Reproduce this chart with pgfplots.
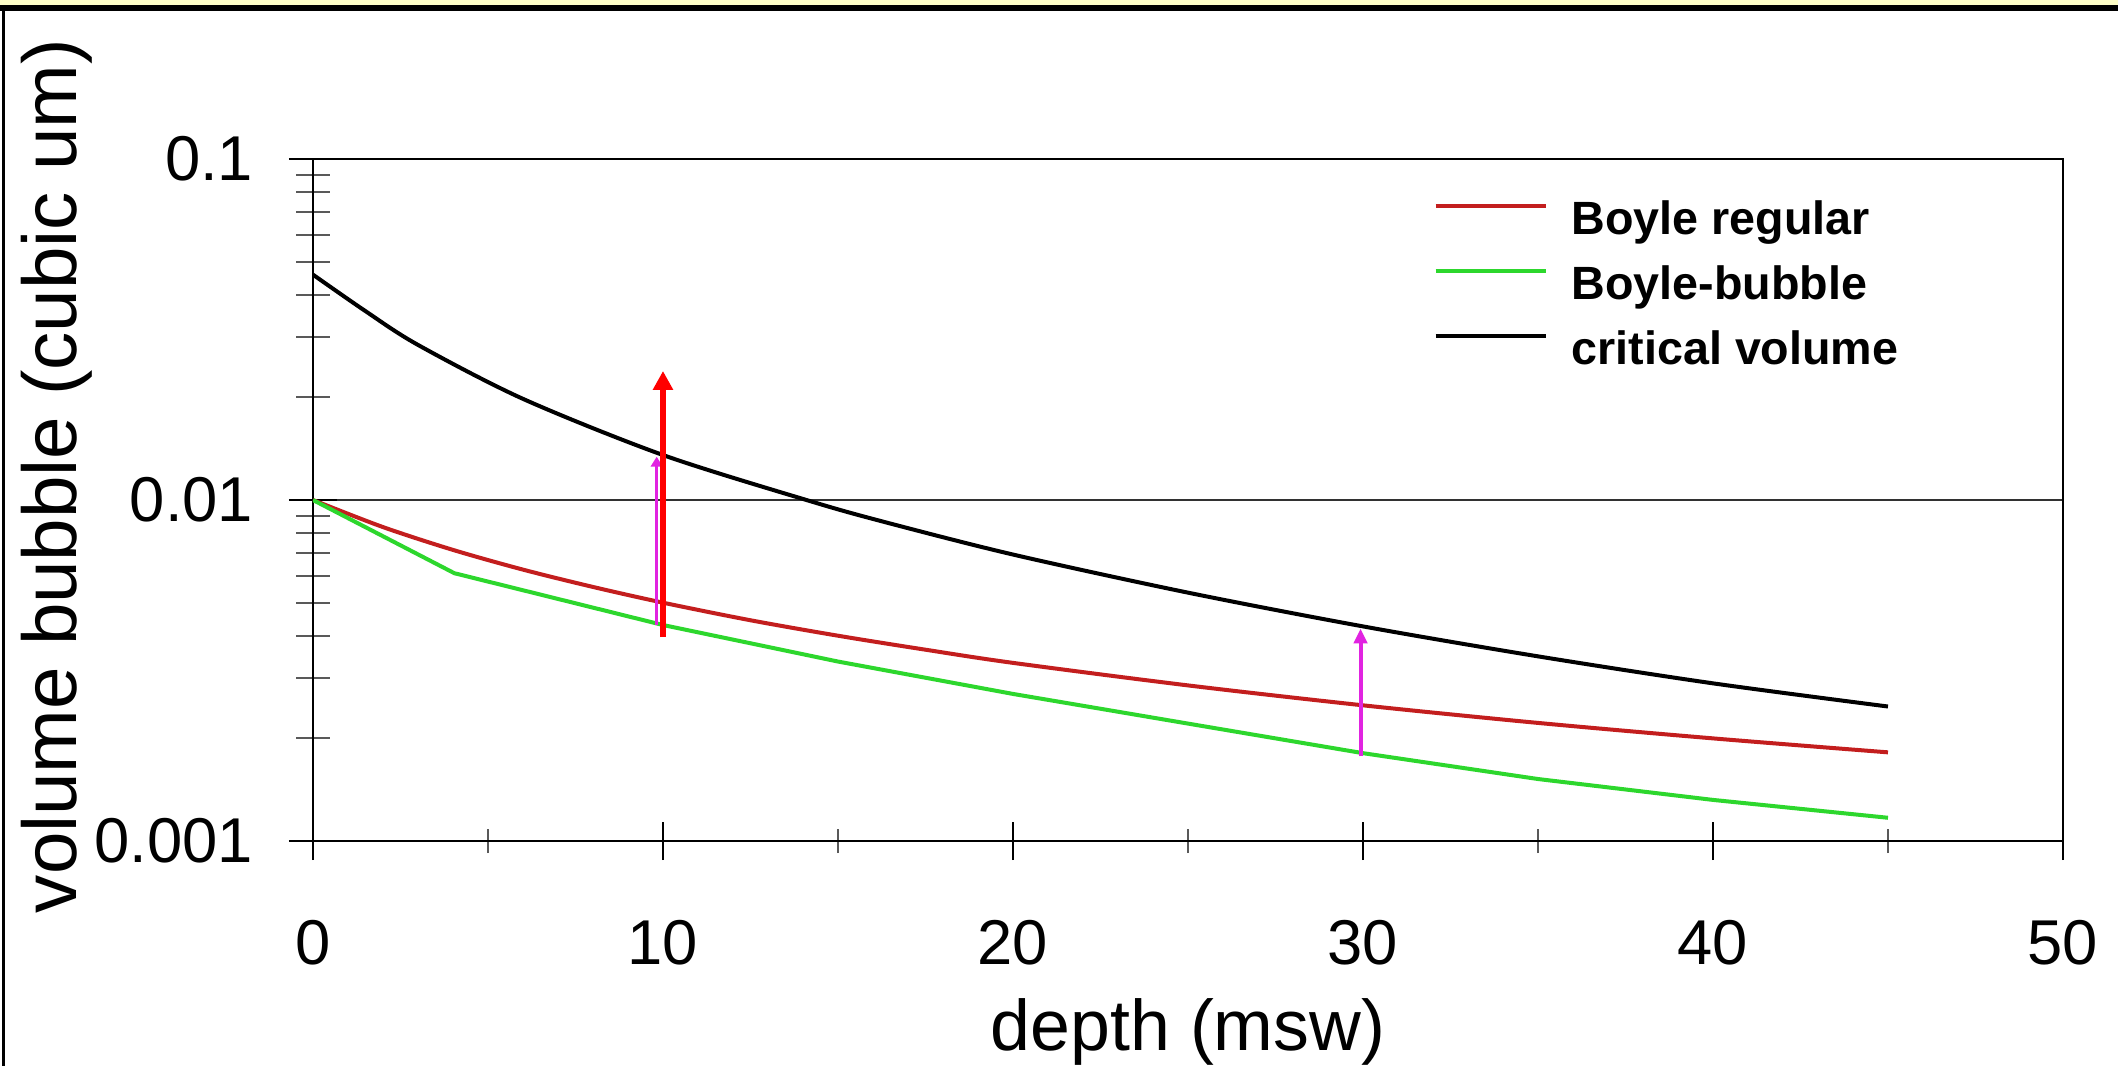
\documentclass[border=0pt]{standalone}
\usepackage{pgfplots}
\pgfplotsset{compat=1.18}
\usepackage{fontspec}
\setmainfont{Liberation Sans}
\usetikzlibrary{arrows.meta}
\definecolor{cred}{RGB}{195,30,30}
\definecolor{cgreen}{RGB}{45,215,45}
\definecolor{cmag}{RGB}{225,35,225}
\definecolor{cyel}{RGB}{255,255,200}
\definecolor{cgrid}{RGB}{50,50,50}

\begin{document}
\begin{tikzpicture}
\useasboundingbox (0,0) rectangle (635.4pt,319.8pt);
\fill[white] (0,0) rectangle (635.4pt,319.8pt);
\fill[cyel] (0,318.3pt) rectangle (635.4pt,319.8pt);
\fill[black] (0,316.5pt) rectangle (635.4pt,318.3pt);
\fill[black] (0.6pt,0) rectangle (1.5pt,316.5pt);
\begin{axis}[
  at={(93.9pt,67.5pt)}, anchor=south west,
  scale only axis, width=525pt, height=204.6pt,
  xmin=0, xmax=50, ymin=0.001, ymax=0.1,
  ymode=log,
  xtick pos=bottom, ytick pos=left,
  xtick={0,10,20,30,40,50}, xticklabels={0,10,20,30,40,50},
  minor x tick num=1,
  ytick={0.001,0.01,0.1}, yticklabels={0.001,0.01,0.1},
  minor ytick={0.002,0.003,0.004,0.005,0.006,0.007,0.008,0.009,0.02,0.03,0.04,0.05,0.06,0.07,0.08,0.09},
  tick align=center,
  xtick style={/pgfplots/major tick length=11.4pt, /pgfplots/minor tick length=7.2pt},
  ytick style={/pgfplots/major tick length=14.4pt, /pgfplots/minor tick length=10pt},
  major tick style={black, line width=0.6pt},
  minor tick style={black!65, line width=0.6pt},
  axis line style={line width=0.7pt},
  ymajorgrids=true,
  grid style={cgrid, line width=0.7pt},
  tick label style={font=\fontsize{19pt}{22pt}\selectfont, inner sep=0pt},
  yticklabel style={anchor=east, xshift=-15.6pt},
  xticklabel style={anchor=north, yshift=-21.3pt},
  xlabel={depth (msw)},
  ylabel={volume bubble (cubic um)},
  xlabel style={font=\fontsize{21.5pt}{24pt}\selectfont, at={(axis description cs:0.5,-0.3065)}, anchor=base, inner sep=0pt},
  ylabel style={font=\fontsize{22.9pt}{26pt}\selectfont, at={(axis description cs:-0.1349,0.535)}, anchor=base, inner sep=0pt},
  legend style={draw=none, fill=none, at={(0.64,0.9413)}, anchor=north west, inner sep=0pt,
    column sep=7.2pt, row sep=6pt,
    nodes={inner sep=0pt, font=\bfseries\fontsize{14pt}{16pt}\selectfont, text height=10.5pt, text depth=3pt}},
  legend cell align=left,
  legend image code/.code={\draw[#1, line width=1.2pt] (0pt,5pt) -- (33pt,5pt);},
]
\addplot[cred, line width=1.2pt, smooth] coordinates {
(0,0.01) (2,0.00833) (4,0.00714) (6,0.00625) (8,0.00556) (10,0.005) (12.5,0.00444)
(15,0.004) (17.5,0.00364) (20,0.00333) (25,0.00286) (30,0.0025) (35,0.00222) (40,0.002) (45,0.00182)};
\addlegendentry{Boyle regular}
\addplot[cgreen, line width=1.2pt] coordinates {
(0,0.01) (4.04,0.0061) (10,0.0043) (15,0.00336) (20,0.0027) (25,0.00221) (30,0.00181)
(35,0.00152) (40,0.00132) (45,0.00117)};
\addlegendentry{Boyle-bubble}
\addplot[black, line width=1.2pt, smooth] coordinates {
(0,0.0458) (1.5,0.0358) (3,0.0285) (6,0.0198) (10,0.01355) (14.1,0.01) (16.2,0.00869)
(20,0.00692) (25,0.00535) (30,0.00426) (35,0.00348) (40,0.0029) (45,0.00248)};
\addlegendentry{critical volume}
\addplot[cmag, line width=1pt, -{Triangle[width=3.5pt,length=3pt]}, forget plot] coordinates {(9.82,0.0043) (9.82,0.0134)};
\addplot[cmag, line width=1.2pt, -{Triangle[width=4pt,length=4.5pt]}, forget plot] coordinates {(29.93,0.00177) (29.93,0.0042)};
\addplot[red, line width=1.8pt, -{Triangle[width=5.8pt,length=5.7pt]}, forget plot] coordinates {(10,0.00396) (10,0.0239)};
\end{axis}
\end{tikzpicture}
\end{document}
